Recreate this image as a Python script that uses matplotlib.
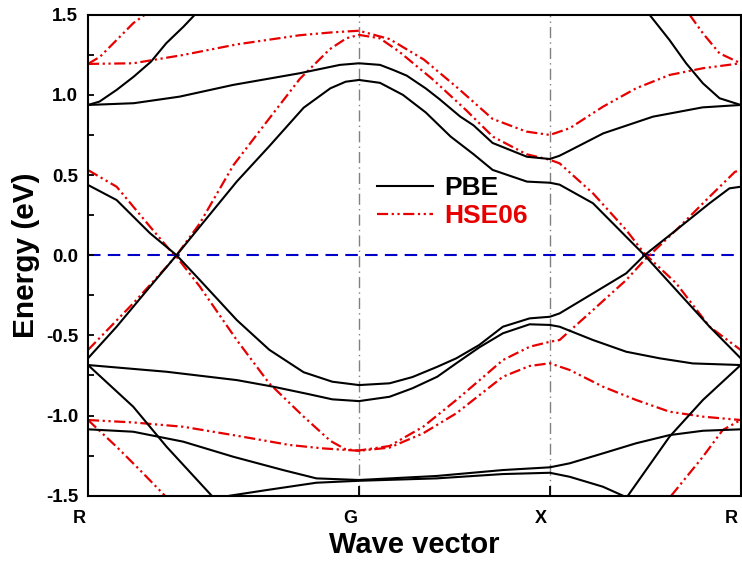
import matplotlib
matplotlib.use("Agg")
import matplotlib.pyplot as plt
from matplotlib.transforms import ScaledTranslation

plt.rcParams["font.family"] = ["Liberation Sans", "DejaVu Sans"]
plt.rcParams["font.weight"] = "bold"

# high symmetry points along the path
kpoints = [0, 1.42, 2.42, 3.42]
klabels = ["R", "G", "X", "R"]

# PBE bands (k, energy in eV)
pbe_k1 = [0, 0.06, 0.15, 0.24, 0.33, 0.41, 0.50, 0.56]
pbe_e1 = [0.937, 0.958, 1.031, 1.114, 1.207, 1.322, 1.425, 1.50]
pbe_k2 = [0, 0.24, 0.48, 0.76, 1.11, 1.32, 1.42, 1.53, 1.60, 1.67, 1.77, 1.84, 1.95, 2.02, 2.12, 2.30, 2.42, 2.47, 2.52, 2.70, 2.96, 3.22, 3.42]
pbe_e2 = [0.937, 0.948, 0.989, 1.062, 1.135, 1.187, 1.197, 1.187, 1.155, 1.12, 1.04, 0.975, 0.865, 0.81, 0.70, 0.614, 0.600, 0.620, 0.650, 0.760, 0.864, 0.922, 0.937]
pbe_k3 = [0, 0.15, 0.325, 0.464, 0.586, 0.78, 0.95, 1.13, 1.27, 1.35, 1.42, 1.53, 1.65, 1.77, 1.90, 2.02, 2.12, 2.30, 2.42, 2.471, 2.646, 2.82, 2.916, 3.082, 3.257, 3.42]
pbe_e3 = [-0.643, -0.446, -0.196, 0.0, 0.178, 0.46, 0.68, 0.92, 1.041, 1.082, 1.093, 1.075, 1.00, 0.89, 0.74, 0.63, 0.532, 0.459, 0.452, 0.44, 0.324, 0.115, 0.0, -0.217, -0.446, -0.643]
pbe_k4 = [0, 0.15, 0.325, 0.464, 0.586, 0.78, 0.95, 1.13, 1.28, 1.42, 1.58, 1.70, 1.83, 1.93, 2.05, 2.174, 2.314, 2.42, 2.471, 2.646, 2.82, 2.916, 3.082, 3.257, 3.361, 3.42]
pbe_e4 = [0.438, 0.344, 0.137, 0.0, -0.155, -0.405, -0.59, -0.73, -0.789, -0.81, -0.799, -0.76, -0.696, -0.643, -0.56, -0.446, -0.394, -0.384, -0.363, -0.238, -0.113, 0.0, 0.157, 0.324, 0.417, 0.427]
pbe_k5 = [0, 0.412, 0.78, 0.97, 1.15, 1.28, 1.42, 1.58, 1.70, 1.83, 1.93, 2.05, 2.174, 2.314, 2.42, 2.471, 2.646, 2.82, 2.995, 3.169, 3.42]
pbe_e5 = [-0.685, -0.727, -0.779, -0.820, -0.865, -0.899, -0.910, -0.883, -0.83, -0.758, -0.674, -0.575, -0.487, -0.431, -0.435, -0.446, -0.529, -0.602, -0.643, -0.675, -0.685]
pbe_k6 = [0, 0.237, 0.412, 0.648]
pbe_e6 = [-0.685, -0.945, -1.195, -1.5]
pbe_k7 = [2.829, 3.047, 3.222, 3.42]
pbe_e7 = [-1.5, -1.132, -0.903, -0.685]
pbe_k8 = [0, 0.237, 0.499, 0.761, 1.022, 1.197, 1.42, 1.826, 2.174, 2.42, 2.524, 2.698, 2.872, 3.047, 3.222, 3.42]
pbe_e8 = [-1.086, -1.101, -1.163, -1.257, -1.340, -1.392, -1.402, -1.377, -1.340, -1.323, -1.298, -1.236, -1.173, -1.122, -1.095, -1.086]
pbe_k9 = [0.743, 0.935, 1.197, 1.42, 1.826, 2.174, 2.42, 2.524, 2.698, 2.803]
pbe_e9 = [-1.5, -1.465, -1.419, -1.407, -1.392, -1.365, -1.357, -1.382, -1.444, -1.5]
pbe_k10 = [2.942, 3.047, 3.134, 3.222, 3.309, 3.42]
pbe_e10 = [1.5, 1.342, 1.197, 1.072, 0.979, 0.937]

# HSE06 bands
hse_k1 = [0, 0.063, 0.15, 0.237, 0.298]
hse_e1 = [1.193, 1.238, 1.342, 1.447, 1.5]
hse_k2 = [0, 0.237, 0.499, 0.78, 1.11, 1.28, 1.42, 1.58, 1.76, 1.94, 2.12, 2.297, 2.42, 2.524, 2.698, 2.872, 3.047, 3.222, 3.42]
hse_e2 = [1.193, 1.197, 1.249, 1.315, 1.372, 1.39, 1.40, 1.348, 1.22, 1.04, 0.85, 0.771, 0.750, 0.792, 0.926, 1.041, 1.124, 1.166, 1.197]
hse_k3 = [0, 0.237, 0.412, 0.464, 0.586, 0.761, 0.935, 1.11, 1.267, 1.354, 1.42, 1.529, 1.63, 1.81, 1.98, 2.122, 2.297, 2.42, 2.471, 2.646, 2.82, 2.916, 3.082, 3.257, 3.42]
hse_e3 = [-0.591, -0.300, -0.072, 0.0, 0.199, 0.56, 0.83, 1.10, 1.285, 1.353, 1.374, 1.353, 1.27, 1.093, 0.906, 0.739, 0.630, 0.595, 0.573, 0.386, 0.157, 0.01, -0.175, -0.446, -0.591]
hse_k4 = [0, 0.15, 0.325, 0.429, 0.464, 0.586, 0.78, 0.95, 1.13, 1.27, 1.35, 1.42, 1.58, 1.756, 1.93, 2.052, 2.174, 2.314, 2.42, 2.471, 2.646, 2.82, 2.916, 3.082, 3.257, 3.39, 3.42]
hse_e4 = [0.531, 0.427, 0.178, 0.032, -0.01, -0.196, -0.53, -0.80, -1.007, -1.158, -1.211, -1.218, -1.19, -1.070, -0.903, -0.779, -0.654, -0.571, -0.540, -0.529, -0.342, -0.155, -0.03, 0.157, 0.365, 0.52, 0.531]
hse_k5 = [0, 0.237, 0.499, 0.761, 1.058, 1.232, 1.42, 1.58, 1.756, 1.93, 2.052, 2.174, 2.314, 2.42, 2.524, 2.698, 2.872, 3.047, 3.222, 3.42]
hse_e5 = [-1.028, -1.043, -1.070, -1.122, -1.184, -1.205, -1.220, -1.20, -1.111, -0.986, -0.872, -0.758, -0.691, -0.674, -0.716, -0.820, -0.903, -0.976, -1.007, -1.028]
hse_k6 = [0, 0.15, 0.272, 0.403]
hse_e6 = [-1.028, -1.195, -1.340, -1.5]
hse_k7 = [3.152, 3.222, 3.309, 3.42]
hse_e7 = [1.5, 1.384, 1.259, 1.197]
hse_k8 = [3.056, 3.222, 3.326, 3.42]
hse_e8 = [-1.5, -1.257, -1.090, -1.028]

pbe_bands = [(pbe_k1, pbe_e1), (pbe_k2, pbe_e2), (pbe_k3, pbe_e3), (pbe_k4, pbe_e4),
             (pbe_k5, pbe_e5), (pbe_k6, pbe_e6), (pbe_k7, pbe_e7), (pbe_k8, pbe_e8),
             (pbe_k9, pbe_e9), (pbe_k10, pbe_e10)]
hse_bands = [(hse_k1, hse_e1), (hse_k2, hse_e2), (hse_k3, hse_e3), (hse_k4, hse_e4),
             (hse_k5, hse_e5), (hse_k6, hse_e6), (hse_k7, hse_e7), (hse_k8, hse_e8)]

red = "#e60000"
hse_style = (0, (5, 1.6, 1, 1.6, 1, 1.6))

fig = plt.figure(figsize=(7.42, 5.61), dpi=100)
ax = fig.add_axes([88 / 742, 65.3 / 561, 652.7 / 742, 481 / 561])

# high symmetry guides and Fermi level
for kp in kpoints[1:3]:
    ax.axvline(kp, color="#808080", lw=1, ls=(0, (8, 3, 1, 3)), zorder=1)
ax.axhline(0, color="#0000c8", lw=1.5, ls=(0, (6, 3.5)), zorder=1)

for i, (k, e) in enumerate(hse_bands):
    ax.plot(k, e, color=red, lw=1.6, ls=hse_style, zorder=2,
            label="HSE06" if i == 0 else None)
for i, (k, e) in enumerate(pbe_bands):
    ax.plot(k, e, color="black", lw=1.5, zorder=3,
            label="PBE" if i == 0 else None)

ax.set_xlim(kpoints[0], kpoints[-1])
ax.set_ylim(-1.5, 1.5)
ax.set_xticks(kpoints)
ax.set_xticklabels(klabels, fontsize=13, fontweight="bold")
ax.set_yticks([-1.5, -1.0, -0.5, 0.0, 0.5, 1.0, 1.5])
ax.set_yticks([-1.25, -0.75, -0.25, 0.25, 0.75, 1.25], minor=True)
ax.set_yticklabels(["-1.5", "-1.0", "-0.5", "0.0", "0.5", "1.0", "1.5"], fontsize=13.5, fontweight="bold")
ax.tick_params(axis="y", which="both", direction="in", length=4, width=1.3, pad=7)
ax.tick_params(axis="x", direction="in", length=7, width=1.3, pad=10)
for lab in ax.get_xticklabels():
    lab.set_transform(lab.get_transform() + ScaledTranslation(-9 / 100, 0, fig.dpi_scale_trans))
for s in ax.spines.values():
    s.set_linewidth(1.5)

ax.set_xlabel("Wave vector", fontsize=21, fontweight="bold", labelpad=3)
ax.set_ylabel("Energy (eV)", fontsize=21.5, fontweight="bold", labelpad=4)

handles, labels = ax.get_legend_handles_labels()
leg = ax.legend(handles[::-1], labels[::-1], loc="center left", bbox_to_anchor=(0.443, 0.61),
                frameon=False, fontsize=19, handlelength=2.1, handletextpad=0.45,
                labelspacing=0.15, borderpad=0, borderaxespad=0)
leg.get_texts()[0].set_color("black")
leg.get_texts()[1].set_color(red)
for t in leg.get_texts():
    t.set_fontweight("bold")

fig.savefig("out.png", dpi=100)
